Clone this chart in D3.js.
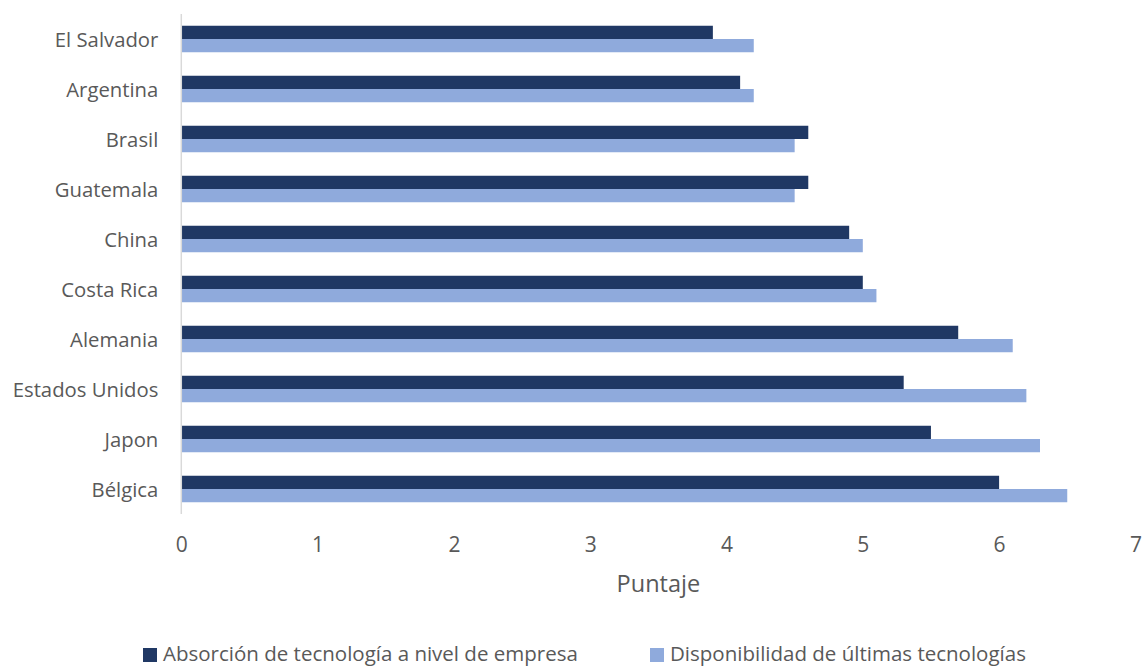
<!DOCTYPE html>
<html>
<head>
<meta charset="utf-8">
<script src="https://cdn.jsdelivr.net/npm/d3@7"></script>
<style>
  html, body { margin: 0; padding: 0; background: #fff; }
  svg { display: block; font-family: "Open Sans", "Noto Sans", sans-serif; }
</style>
</head>
<body>
<svg id="chart" width="1145" height="667"></svg>
<script>
// Countries, top to bottom
const countries = ["El Salvador", "Argentina", "Brasil", "Guatemala", "China",
                   "Costa Rica", "Alemania", "Estados Unidos", "Japon", "Bélgica"];
// Firm-level technology absorption score
const absorcion = [3.9, 4.1, 4.6, 4.6, 4.9, 5.0, 5.7, 5.3, 5.5, 6.0];
// Availability of latest technologies score
const disponibilidad = [4.2, 4.2, 4.5, 4.5, 5.0, 5.1, 6.1, 6.2, 6.3, 6.5];
const xTicks = [0, 1, 2, 3, 4, 5, 6, 7];
const seriesNames = ["Absorción de tecnología a nivel de empresa", "Disponibilidad de últimas tecnologías"];
const seriesColors = ["#203864", "#8faadc"];

const rows = countries.map((c, i) => ({ country: c, values: [absorcion[i], disponibilidad[i]] }));

const svg = d3.select("#chart");
const plotLeft = 181.3, plotRight = 1135.4, plotTop = 14, plotBottom = 514;
const textColor = "#595959";

const x = d3.scaleLinear().domain([0, 7]).range([plotLeft, plotRight]);
const y = d3.scaleBand().domain(countries).range([plotTop, plotBottom])
  .paddingInner(0.47).paddingOuter(0.235);
const ySub = d3.scaleBand().domain([0, 1]).range([0, y.bandwidth()]);

// Bars
const groups = svg.append("g").selectAll("g").data(rows).join("g")
  .attr("transform", d => `translate(0,${y(d.country)})`);
groups.selectAll("rect").data(d => d.values.map((v, k) => ({ v, k }))).join("rect")
  .attr("x", x(0))
  .attr("y", d => ySub(d.k))
  .attr("width", d => x(d.v) - x(0))
  .attr("height", ySub.bandwidth())
  .attr("fill", d => seriesColors[d.k]);

// Vertical category axis line
svg.append("line")
  .attr("x1", x(0)).attr("x2", x(0))
  .attr("y1", plotTop).attr("y2", plotBottom)
  .attr("stroke", "#d9d9d9").attr("stroke-width", 1.5);

// Category labels
const yAxis = svg.append("g").attr("transform", `translate(${x(0)},0)`)
  .call(d3.axisLeft(y).tickSize(0).tickPadding(23));
yAxis.select(".domain").remove();
yAxis.selectAll("text").attr("font-size", 20.3).attr("fill", textColor)
  .attr("dy", "0.4em")
  .attr("font-family", "'Open Sans', sans-serif");

// Value axis labels
const xAxis = svg.append("g").attr("transform", `translate(0,${plotBottom})`)
  .call(d3.axisBottom(x).tickValues(xTicks).tickFormat(d3.format("d")).tickSize(0).tickPadding(23));
xAxis.select(".domain").remove();
xAxis.selectAll("text").attr("font-size", 21).attr("fill", textColor)
  .attr("font-family", "'Open Sans', sans-serif");

// Axis title
svg.append("text")
  .attr("x", (plotLeft + plotRight) / 2).attr("y", 592)
  .attr("text-anchor", "middle")
  .attr("font-size", 23.5).attr("fill", textColor)
  .text("Puntaje");

// Legend
const legendX = [143, 650];
const legend = svg.append("g").selectAll("g").data(seriesNames).join("g")
  .attr("transform", (d, i) => `translate(${legendX[i]},648)`);
legend.append("rect").attr("width", 14).attr("height", 14)
  .attr("fill", (d, i) => seriesColors[i]);
legend.append("text").attr("x", 20).attr("y", 13)
  .attr("font-size", 20.5).attr("fill", textColor)
  .text(d => d);
</script>
</body>
</html>
